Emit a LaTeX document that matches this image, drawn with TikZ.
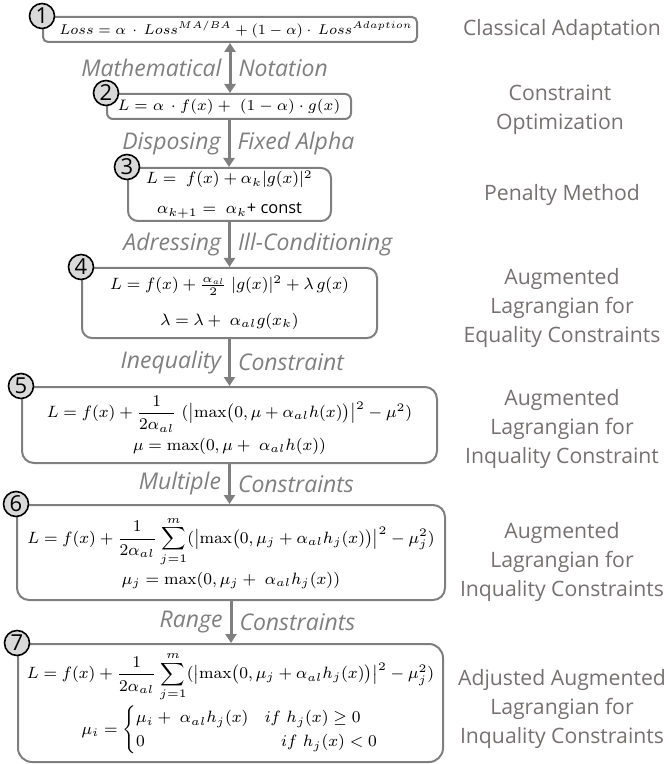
\documentclass[tikz,border=0pt]{standalone}
\usepackage{fix-cm}
\usepackage{amsmath}
\usepackage[no-math]{fontspec}
\newfontfamily\labelfont{Open Sans}
\usetikzlibrary{positioning,arrows.meta}
\definecolor{linegray}{RGB}{127,127,127}
\definecolor{labelgray}{RGB}{118,113,113}
\definecolor{stepgray}{RGB}{217,217,217}
\tikzset{
  >={Triangle[width=5.5pt,length=4.5pt]},
  formula/.style={draw=linegray,line width=1pt,rounded corners=5pt,align=center,inner sep=0pt,font=\fontsize{8.2}{10}\selectfont},
  stepnum/.style={draw=black,line width=0.8pt,fill=stepgray,circle,minimum size=12.5pt,inner sep=0pt,font=\labelfont\fontsize{11}{11}\selectfont},
  method/.style={align=center,text=labelgray,font=\labelfont\fontsize{10.6}{14.3}\selectfont},
  flow/.style={draw=linegray,line width=1.5pt},
  why/.style={text=linegray,font=\labelfont\itshape\fontsize{11.5}{12}\selectfont,inner sep=3.5pt}
}

\begin{document}
\begin{tikzpicture}[x=0.5pt,y=-0.5pt]
  \useasboundingbox (0,0) rectangle (668,764);
  % formula boxes
  \node[formula,minimum width=187pt,minimum height=12.5pt,rounded corners=2.5pt,font=\fontsize{7.1}{9}\selectfont] (f1) at (230,29.5)
    {\hspace*{6pt}$Loss = \alpha\,\cdot\,Loss^{MA/BA} + (1-\alpha)\cdot\,Loss^{Adaption}$};
  \node[formula,minimum width=122pt,minimum height=12.5pt,rounded corners=3pt,font=\fontsize{7.6}{9}\selectfont] (f2) at (229,106.5)
    {$L = \alpha\,\cdot f(x) +\; (1-\alpha)\cdot g(x)$};
  \node[formula,minimum width=101.5pt,minimum height=26.5pt] (f3) at (229.5,194.5)
    {$L =\; f(x) + \alpha_k|g(x)|^2$\\[5pt]$\alpha_{k+1} =\; \alpha_k${\labelfont+ const}};
  \node[formula,minimum width=147.5pt,minimum height=35pt] (f4) at (229.5,303)
    {$L = f(x) + \frac{\alpha_{al}}{2}\;|g(x)|^2 + \lambda\, g(x)$\\[8pt]$\lambda = \lambda +\; \alpha_{al} g(x_k)$};
  \node[formula,minimum width=207.5pt,minimum height=38pt,rounded corners=6pt] (f5) at (229.5,425)
    {$L = f(x) + \dfrac{1}{2\alpha_{al}}\;(\bigl|\max\bigl(0,\mu+\alpha_{al}h(x)\bigr)\bigr|^2 - \mu^2)$\\[2pt]$\mu = \max(0,\mu +\; \alpha_{al}h(x))$};
  \node[formula,minimum width=214pt,minimum height=47.5pt,rounded corners=6pt] (f6) at (231,552.5)
    {$L = f(x) + \dfrac{1}{2\alpha_{al}}\displaystyle\sum_{j=1}^{m}(\bigl|\max\bigl(0,\mu_j+\alpha_{al}h_j(x)\bigr)\bigr|^2 - \mu_j^2)$\\[2pt]$\mu_j = \max(0,\mu_j +\; \alpha_{al}h_j(x))$};
  \node[formula,minimum width=212.5pt,minimum height=59pt,rounded corners=7pt] (f7) at (230.5,703)
    {$L = f(x) + \dfrac{1}{2\alpha_{al}}\displaystyle\sum_{j=1}^{m}(\bigl|\max\bigl(0,\mu_j+\alpha_{al}h_j(x)\bigr)\bigr|^2 - \mu_j^2)$\\[1pt]
     $\mu_i = \begin{cases}\mu_i +\; \alpha_{al}h_j(x) & if\ h_j(x)\geq 0\\ 0 & \quad if\ h_j(x)<0\end{cases}$};
  % step numbers
  \foreach \i in {1,...,7}
    \node[stepnum] (n\i) at (f\i.north west) {\i};
  % transitions
  \draw[flow,<->] (f1.south) -- (f1.south |- f2.north)
    node[midway,left,why] (w1l) {Mathematical} node[midway,right,why] (w1r) {Notation};
  \draw[flow,->] (f2.south) -- (f2.south |- f3.north)
    node[midway,left,why] (w2l) {Disposing} node[midway,right,why] (w2r) {Fixed Alpha};
  \draw[flow,->] (f3.south) -- (f3.south |- f4.north)
    node[midway,left,why] (w3l) {Adressing} node[midway,right,why] (w3r) {Ill-Conditioning};
  \draw[flow,->] (f4.south) -- (f4.south |- f5.north)
    node[midway,left,why] (w4l) {Inequality} node[midway,right,why] (w4r) {Constraint};
  \draw[flow,->] (f5.south) -- (f5.south |- f6.north)
    node[midway,left,why] (w5l) {Multiple} node[midway,right,why] (w5r) {Constraints};
  \draw[flow,->] (f6.south) -- (f6.south |- f7.north)
    node[midway,left,why] (w6l) {Range} node[midway,right,why] (w6r) {Constraints};
  % method names
  \node[method] (m1) at (562,30) {Classical Adaptation};
  \node[method] (m2) at (560,110) {Constraint\\Optimization};
  \node[method] (m3) at (562,195) {Penalty Method};
  \node[method] (m4) at (562,308) {Augmented\\Lagrangian for\\Equality Constraints};
  \node[method] (m5) at (562,429) {Augmented\\Lagrangian for\\Inquality Constraint};
  \node[method] (m6) at (562,562) {Augmented\\Lagrangian for\\Inquality Constraints};
  \node[method] (m7) at (562,709) {Adjusted Augmented\\Lagrangian for\\Inquality Constraints};
\end{tikzpicture}
\end{document}
